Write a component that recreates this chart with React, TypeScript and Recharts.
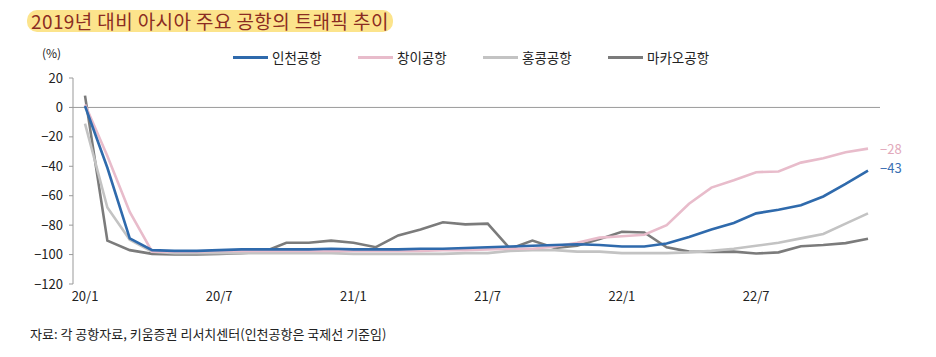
import { LineChart, Line, XAxis, YAxis, ReferenceLine } from "recharts";

const FONT = "'Noto Sans CJK KR', 'Noto Sans', sans-serif";

const MONTHS = [
  "20/1", "20/2", "20/3", "20/4", "20/5", "20/6", "20/7", "20/8", "20/9", "20/10", "20/11", "20/12",
  "21/1", "21/2", "21/3", "21/4", "21/5", "21/6", "21/7", "21/8", "21/9", "21/10", "21/11", "21/12",
  "22/1", "22/2", "22/3", "22/4", "22/5", "22/6", "22/7", "22/8", "22/9", "22/10", "22/11", "22/12",
];

const INCHEON = [
  1, -41, -89, -97, -97.5, -97.5, -97, -96.5, -96.5, -96.5, -96.5, -96,
  -96.5, -96.5, -96.5, -96, -96, -95.5, -95, -94.5, -94, -93.5, -93, -93.5,
  -94.5, -94.5, -92.5, -88, -83, -78.5, -72, -69.5, -66.5, -60.5, -52, -43,
];
const CHANGI = [
  2, -33, -71, -98, -98, -98, -97.5, -97.5, -97.5, -97.5, -97.5, -97.5,
  -97.5, -97.5, -97.5, -97.5, -97, -97, -96.5, -96, -96, -94.5, -92, -88.5,
  -87.5, -86.5, -80, -65.5, -54.5, -49.5, -44, -43.5, -37.5, -34.5, -30.5, -28,
];
const HONGKONG = [
  -11, -68, -90, -98, -99, -99, -99, -99, -99, -99, -99, -99,
  -99.5, -99.5, -99.5, -99.5, -99.5, -99, -99, -97.5, -97, -97, -98, -98,
  -99, -99, -99, -98.5, -97.5, -96, -94, -92, -89, -86, -79, -72,
];
const MACAU = [
  8, -90.5, -97, -99.5, -100, -100, -99.5, -99, -98, -92, -92, -90.5,
  -92, -95, -87, -83, -78, -79.5, -79, -96, -90.5, -95.5, -94, -89.5,
  -84.5, -85, -95, -98, -98.2, -98, -99.3, -98.5, -94.3, -93.5, -92.2, -89.3,
];

const Y_TICKS = [-120, -100, -80, -60, -40, -20, 0, 20];
const X_TICKS = ["20/1", "20/7", "21/1", "21/7", "22/1", "22/7"];

const SERIES = [
  { key: "incheon", name: "인천공항", color: "#2f6aac", endLabel: true, labelColor: "#3b6fb3", dy: -3 },
  { key: "changi", name: "창이공항", color: "#e8bccb", endLabel: true, labelColor: "#e2a9bb", dy: 0 },
  { key: "hongkong", name: "홍콩공항", color: "#c3c3c3", endLabel: false, labelColor: "", dy: 0 },
  { key: "macau", name: "마카오공항", color: "#7b7b7b", endLabel: false, labelColor: "", dy: 0 },
];

const data = MONTHS.map((m, i) => ({
  month: m,
  incheon: INCHEON[i],
  changi: CHANGI[i],
  hongkong: HONGKONG[i],
  macau: MACAU[i],
}));

const fmt = (v: number) => (v < 0 ? "\u2212" + Math.abs(v) : String(v));

function endLabel(color: string, dy: number) {
  return (props: any) => {
    if (props.index !== MONTHS.length - 1) return <g key={props.index} />;
    return (
      <text
        key={props.index}
        x={props.x + 12}
        y={props.y + dy}
        fill={color}
        fontSize={13}
        fontFamily={FONT}
        dominantBaseline="central"
      >
        {fmt(Math.round(props.value))}
      </text>
    );
  };
}

function LegendRow() {
  return (
    <div style={{ display: "flex", fontFamily: FONT, fontSize: 13.5, color: "#222" }}>
      {SERIES.map((s) => (
        <div key={s.key} style={{ width: 125, display: "flex", alignItems: "center" }}>
          <span style={{ display: "inline-block", width: 35, height: 3, background: s.color, marginRight: 4 }} />
          <span>{s.name}</span>
        </div>
      ))}
    </div>
  );
}

export default function App() {
  return (
    <div style={{ position: "relative", width: 936, height: 357, background: "#fff", fontFamily: FONT }}>
      <style>{"body{margin:0}"}</style>
      <div
        style={{
          position: "absolute",
          left: 27,
          top: 10,
          height: 22,
          padding: "0 4px",
          background: "#fce48c",
          borderRadius: 10,
          color: "#8b2c22",
          fontSize: 19,
          letterSpacing: 0.4,
          lineHeight: "22px",
          whiteSpace: "nowrap",
        }}
      >
        2019년 대비 아시아 주요 공항의 트래픽 추이
      </div>
      <div style={{ position: "absolute", left: 42, top: 44, fontSize: 12, color: "#222" }}>(%)</div>
      <div style={{ position: "absolute", left: 233, top: 47 }}>
        <LegendRow />
      </div>
      <div style={{ position: "absolute", left: 30, top: 324, fontSize: 13, color: "#222", whiteSpace: "nowrap" }}>
        자료: 각 공항자료, 키움증권 리서치센터(인천공항은 국제선 기준임)
      </div>
      <div style={{ position: "absolute", left: 0, top: 0 }}>
        <LineChart width={936} height={357} data={data} margin={{ top: 78, right: 56, bottom: 53, left: 33 }}>
          <XAxis
            dataKey="month"
            ticks={X_TICKS}
            interval={0}
            axisLine={false}
            tickLine={false}
            height={20}
            padding={{ left: 12, right: 12 }}
            tick={{ fill: "#222", fontSize: 13, fontFamily: FONT }}
          />
          <YAxis
            domain={[-120, 20]}
            ticks={Y_TICKS}
            width={40}
            tickSize={4}
            tickMargin={6}
            axisLine={{ stroke: "#999" }}
            tickLine={{ stroke: "#999" }}
            tickFormatter={fmt}
            tick={{ fill: "#222", fontSize: 13, fontFamily: FONT }}
          />
          <ReferenceLine y={0} stroke="#9a9a9a" strokeWidth={1} />
          {SERIES.slice().reverse().map((s) => (
            <Line
              key={s.key}
              type="linear"
              dataKey={s.key}
              name={s.name}
              stroke={s.color}
              strokeWidth={2.6}
              dot={false}
              activeDot={false}
              isAnimationActive={false}
              label={s.endLabel ? endLabel(s.labelColor, s.dy) : false}
            />
          ))}
        </LineChart>
      </div>
    </div>
  );
}
